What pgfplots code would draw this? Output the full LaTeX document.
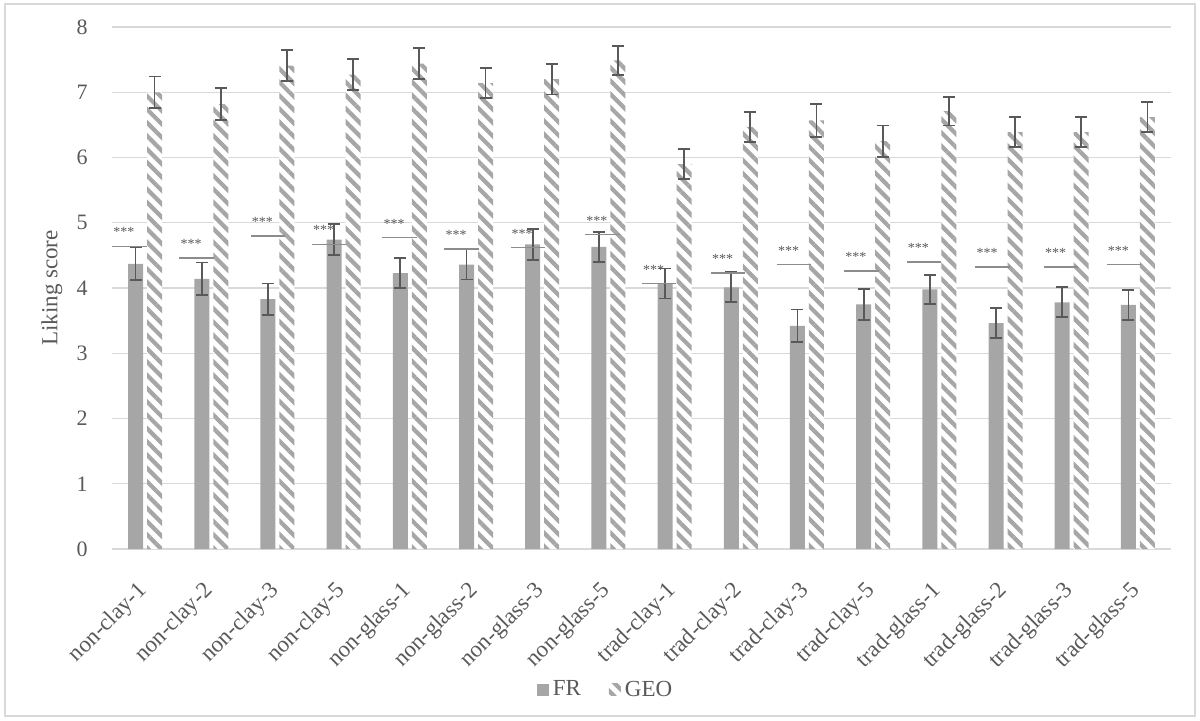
\documentclass[border=0pt]{standalone}
\usepackage{pgfplots}
\pgfplotsset{compat=1.18}
\usepackage{pgfplotstable}
\usepackage{fontspec}
\setmainfont{Liberation Serif}
\usetikzlibrary{patterns.meta}
\definecolor{barfill}{HTML}{A6A6A6}
\definecolor{errc}{HTML}{595959}
\definecolor{gridc}{HTML}{D9D9D9}
\definecolor{txt}{HTML}{595959}
\definecolor{sigc}{HTML}{8C8C8C}

\pgfplotstableread{
x fr frerr geo geoerr sig sx
0 4.37 0.25 7.00 0.24 4.64 -0.238
1 4.14 0.25 6.82 0.245 4.46 0.777
2 3.83 0.24 7.41 0.24 4.80 1.855
3 4.74 0.24 7.27 0.24 4.67 2.780
4 4.23 0.23 7.44 0.24 4.77 3.846
5 4.36 0.23 7.14 0.23 4.60 4.781
6 4.67 0.24 7.20 0.235 4.62 5.781
7 4.63 0.23 7.49 0.22 4.82 6.908
8 4.07 0.23 5.90 0.23 4.07 7.768
9 4.01 0.23 6.47 0.23 4.23 8.808
10 3.42 0.25 6.57 0.25 4.36 9.804
11 3.75 0.24 6.25 0.24 4.26 10.822
12 3.98 0.22 6.71 0.22 4.40 11.765
13 3.46 0.23 6.39 0.23 4.32 12.805
14 3.78 0.23 6.39 0.23 4.32 13.839
15 3.74 0.23 6.62 0.23 4.36 14.789
}\data

\begin{document}
\begin{tikzpicture}
\begin{axis}[
  scale only axis,
  width=529.5pt, height=261pt,
  xmin=-0.5, xmax=15.5,
  ymin=0, ymax=8,
  ytick={0,1,2,3,4,5,6,7,8},
  xtick={0,1,2,3,4,5,6,7,8,9,10,11,12,13,14,15},
  xticklabels={non-clay-1,non-clay-2,non-clay-3,non-clay-5,non-glass-1,non-glass-2,non-glass-3,non-glass-5,trad-clay-1,trad-clay-2,trad-clay-3,trad-clay-5,trad-glass-1,trad-glass-2,trad-glass-3,trad-glass-5},
  axis line style={draw=none},
  major tick length=0pt,
  ymajorgrids,
  grid style={gridc, line width=0.6pt},
  /pgf/number format/assume math mode=true,
  yticklabel style={font=\fontsize{11}{13}\selectfont, text=txt, inner sep=0pt, xshift=-12pt},
  xticklabel style={font=\fontsize{11.5}{13}\selectfont, text=txt, xshift=-4.5pt, yshift=-15.5pt, rotate=45, anchor=north east, inner sep=0pt},
  legend style={at={(0.467,-0.27)}, anchor=center, draw=none, fill=none,
    legend columns=2, font=\fontsize{11.5}{13}\selectfont, text=txt,
    /tikz/every even column/.append style={column sep=12pt}},
  legend image code/.code={\path[#1, draw=none] (0pt,-3pt) rectangle (6pt,3pt);},
  error bars/error bar style={line width=0.9pt, draw=errc},
  error bars/error mark options={rotate=90, mark size=3pt, line width=0.9pt, draw=errc},
]
% white underlay for hatched bars
\addplot[ybar, bar width=7.5pt, bar shift=4.75pt, fill=white, draw=none, forget plot]
  table[x=x, y=geo] {\data};
\addplot[ybar, bar width=7.5pt, bar shift=-4.75pt, fill=barfill, draw=none]
  table[x=x, y=fr] {\data};
\addlegendentry{FR}
\addplot[ybar, bar width=7.5pt, bar shift=4.75pt, draw=none,
  pattern={Lines[angle=-45, distance=4.7pt, line width=2.1pt]}, pattern color=barfill]
  table[x=x, y=geo] {\data};
\addlegendentry{GEO}
% error bars, at the bar centres
\addplot[draw=none, mark=none, forget plot, error bars/.cd, y dir=both, y explicit]
  table[x expr=\thisrow{x}-0.1435, y=fr, y error=frerr] {\data};
\addplot[draw=none, mark=none, forget plot, error bars/.cd, y dir=both, y explicit]
  table[x expr=\thisrow{x}+0.1435, y=geo, y error=geoerr] {\data};
% significance lines and stars
\addplot[only marks, mark=-, mark size=8.6pt, mark options={sigc, line width=0.7pt}, forget plot,
  nodes near coords={***},
  every node near coord/.append style={font=\fontsize{7}{8}\selectfont, text=errc, anchor=center, inner sep=0pt, xshift=-2.75pt, yshift=7pt}]
  table[x=sx, y=sig] {\data};
\end{axis}
\node[rotate=90, font=\fontsize{11.5}{13}\selectfont, text=txt] at (-30pt,130.5pt) {Liking score};
\pgfresetboundingbox
\path (-56pt,-85.5pt) rectangle (544pt,274.5pt);
\draw[gridc, line width=0.75pt] (-53.5pt,-83.5pt) rectangle (541.5pt,272.5pt);
\end{tikzpicture}
\end{document}
